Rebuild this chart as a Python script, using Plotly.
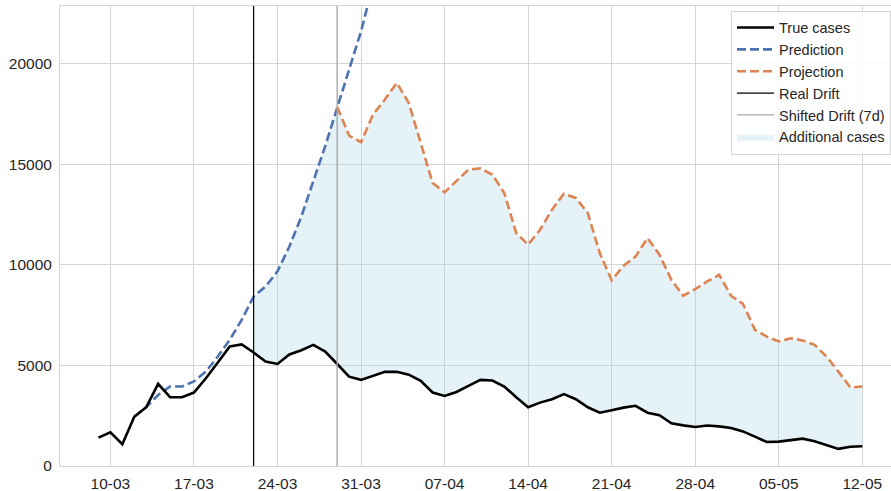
import pandas as pd
import plotly.graph_objects as go

# ---- data ----
true_start = "2020-03-09"
true_cases = [1410, 1670, 1080, 2450, 2920, 4080, 3420, 3420, 3650, 4360,
              5140, 5940, 6040, 5640, 5190, 5070, 5540, 5750, 6020, 5690,
              5070, 4440, 4280, 4490, 4680, 4680, 4540, 4230, 3650, 3480,
              3680, 3980, 4280, 4250, 3950, 3420, 2920, 3150, 3320, 3570,
              3320, 2920, 2650, 2770, 2900, 2990, 2650, 2520, 2120, 2020,
              1940, 2010, 1970, 1890, 1720, 1460, 1190, 1210, 1280, 1360,
              1230, 1030, 850, 960, 980]

pred_start = "2020-03-12"
prediction = [2450, 2920, 3530, 3950, 3950, 4200, 4690, 5440, 6270, 7260,
              8420, 8920, 9670, 10910, 12400, 14150, 15900, 17800, 19650, 21600,
              23900, 26500]

proj_start = "2020-03-29"
projection = [17840, 16420, 16090, 17460, 18210, 19040, 18040, 16050, 14060, 13600,
              14150, 14730, 14790, 14480, 13570, 11580, 11000, 11740, 12740, 13530,
              13320, 12570, 10580, 9230, 9950, 10410, 11330, 10500, 9250, 8460,
              8790, 9170, 9500, 8460, 8060, 6770, 6430, 6190, 6350, 6240,
              6020, 5440, 4690, 3900, 3950]

real_drift = "2020-03-22"
shifted_drift = "2020-03-29"

x_range = ["2020-03-05 18:40", "2020-05-14 09:40"]
y_range = [0, 22860]
tick_start = "2020-03-10"
y_ticks = [0, 5000, 10000, 15000, 20000]

# ---- series ----
t_dates = pd.date_range(true_start, periods=len(true_cases), freq="D")
p_dates = pd.date_range(pred_start, periods=len(prediction), freq="D")
j_dates = pd.date_range(proj_start, periods=len(projection), freq="D")
true_s = pd.Series(true_cases, index=t_dates)
pred_s = pd.Series(prediction, index=p_dates)
proj_s = pd.Series(projection, index=j_dates)

# upper bound of additional cases: prediction until shifted drift, then projection
upper = pd.concat([pred_s[real_drift:shifted_drift].iloc[:-1], proj_s])
lower = true_s[upper.index]

BLUE = "#4C72B0"
ORANGE = "#DD8452"

fig = go.Figure()

fig.add_trace(go.Scatter(
    x=list(upper.index) + list(lower.index[::-1]),
    y=list(upper.values) + list(lower.values[::-1]),
    fill="toself", fillcolor="rgba(173,216,230,0.32)",
    line=dict(width=0), mode="lines", name="Additional cases",
    legendrank=6, hoverinfo="skip"))

fig.add_trace(go.Scatter(x=p_dates, y=prediction, mode="lines", name="Prediction",
                         line=dict(color=BLUE, width=2.6, dash="9px,4px"), legendrank=2))
fig.add_trace(go.Scatter(x=j_dates, y=projection, mode="lines", name="Projection",
                         line=dict(color=ORANGE, width=2.6, dash="9px,4px"), legendrank=3))
fig.add_trace(go.Scatter(x=t_dates, y=true_cases, mode="lines", name="True cases",
                         line=dict(color="black", width=2.6), legendrank=1))

fig.add_trace(go.Scatter(x=[real_drift, real_drift], y=y_range, mode="lines",
                         name="Real Drift", line=dict(color="black", width=1.2),
                         legendrank=4))
fig.add_trace(go.Scatter(x=[shifted_drift, shifted_drift], y=y_range, mode="lines",
                         name="Shifted Drift (7d)", line=dict(color="#a8a8a8", width=1.4),
                         legendrank=5))

fig.update_layout(
    width=891, height=491,
    margin=dict(l=60, r=0, t=6, b=25),
    plot_bgcolor="white", paper_bgcolor="white",
    font=dict(family="Liberation Sans, Arial, sans-serif", size=15.5, color="#262626"),
    showlegend=True,
    legend=dict(x=0.8075, y=0.99, xanchor="left", yanchor="top",
                bgcolor="rgba(255,255,255,0.85)", bordercolor="#d6d6d6", borderwidth=1,
                font=dict(size=14.5, color="#262626"), tracegroupgap=0,
                itemwidth=37),
)
fig.update_xaxes(range=x_range, type="date", tickformat="%d-%m",
                 tick0=tick_start, dtick=7 * 24 * 3600 * 1000,
                 showgrid=True, gridcolor="#d4d4d4", gridwidth=1,
                 showline=True, linecolor="#d4d4d4", mirror=True,
                 ticks="", zeroline=False, ticklabelstandoff=3)
fig.update_yaxes(range=y_range, tickvals=y_ticks, tickformat="d",
                 showgrid=True, gridcolor="#d4d4d4", gridwidth=1,
                 showline=True, linecolor="#d4d4d4", mirror=True,
                 ticks="", zeroline=False, ticklabelstandoff=4)

fig.write_html("out.html", config={"displayModeBar": False},
               post_script="document.body.style.margin='0';document.body.style.overflow='hidden';")
